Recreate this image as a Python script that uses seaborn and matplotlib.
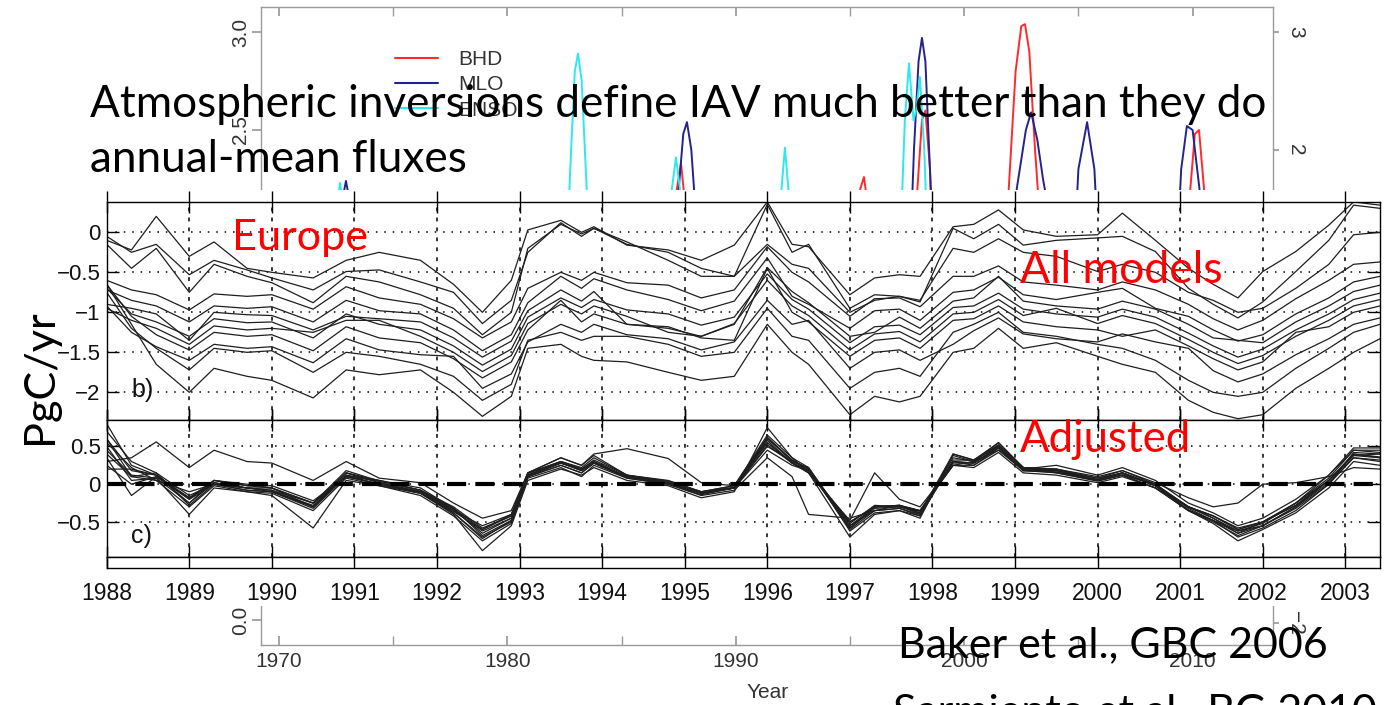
import matplotlib
matplotlib.use("Agg")
import matplotlib.pyplot as plt
from matplotlib.patches import Rectangle
from matplotlib.lines import Line2D
import pandas as pd
import seaborn as sns

# ---------------- foreground figure (Baker et al. 2006) ----------------
years = [1988.0, 1988.3, 1988.6, 1989.0, 1989.3, 1989.7, 1990.0, 1990.5, 1990.9, 1991.3,
         1991.8, 1992.2, 1992.55, 1992.9, 1993.1, 1993.5, 1993.75, 1993.9, 1994.3, 1994.8,
         1995.2, 1995.6, 1996.0, 1996.3, 1996.5, 1997.0, 1997.3, 1997.6, 1997.85, 1998.25,
         1998.5, 1998.8, 1999.1, 1999.5, 2000.0, 2000.3, 2000.7, 2001.1, 2001.4, 2001.7,
         2002.0, 2002.4, 2002.8, 2003.1, 2003.42]

# panel b) Europe, all models (PgC/yr)
eu_u1 = [-0.10, -0.22, 0.20, -0.30, -0.12, -0.45, -0.50, -0.57, -0.35, -0.25, -0.35, -0.65, -1.00, -0.60, 0.03,
         0.15, 0.00, 0.07, -0.16, -0.22, -0.35, -0.16, 0.38, -0.15, -0.18, -0.78, -0.57, -0.53, -0.55, 0.07,
         0.10, 0.28, 0.03, -0.05, -0.03, 0.24, -0.10, -0.45, -0.65, -0.82, -0.49, -0.24, 0.09, 0.38, 0.34]
eu_u2 = [-0.05, -0.25, -0.15, -0.53, -0.35, -0.47, -0.57, -0.72, -0.49, -0.47, -0.62, -0.75, -1.14, -0.85, -0.25,
         0.12, -0.05, 0.05, -0.15, -0.25, -0.45, -0.55, 0.35, -0.25, -0.15, -0.95, -0.78, -0.80, -0.87, 0.05,
         -0.08, 0.10, -0.16, -0.10, -0.07, -0.05, -0.24, -0.70, -0.90, -1.07, -0.87, -0.49, -0.10, 0.34, 0.30]
eu_u3 = [-0.15, -0.45, -0.20, -0.75, -0.40, -0.55, -0.63, -0.88, -0.55, -0.62, -0.78, -0.95, -1.28, -1.00, -0.20,
         0.10, -0.02, 0.05, -0.12, -0.35, -0.55, -0.55, -0.15, -0.40, -0.45, -1.00, -0.85, -0.80, -0.85, -0.20,
         -0.25, -0.08, -0.25, -0.30, -0.49, -0.40, -0.50, -0.75, -0.85, -1.00, -0.95, -0.70, -0.40, -0.03, 0.00]
eu_m1 = [-0.60, -0.72, -0.78, -0.97, -0.77, -0.80, -0.78, -0.96, -0.68, -0.82, -0.90, -1.08, -1.32, -1.12, -0.70,
         -0.50, -0.60, -0.50, -0.63, -0.66, -0.82, -0.72, -0.18, -0.50, -0.62, -1.05, -0.83, -0.82, -0.93, -0.55,
         -0.55, -0.42, -0.62, -0.66, -0.72, -0.62, -0.72, -0.90, -1.08, -1.22, -1.10, -0.83, -0.60, -0.40, -0.37]
eu_m2 = [-0.72, -0.85, -0.92, -1.12, -0.92, -0.95, -0.93, -1.12, -0.85, -0.98, -1.02, -1.22, -1.48, -1.28, -0.88,
         -0.55, -0.70, -0.58, -0.72, -0.84, -0.98, -0.86, -0.32, -0.80, -0.90, -1.20, -0.98, -0.96, -1.10, -0.75,
         -0.72, -0.56, -0.78, -0.84, -0.75, -0.70, -0.95, -1.05, -1.22, -1.36, -1.28, -1.02, -0.82, -0.62, -0.55]
eu_m3 = [-0.90, -0.95, -1.02, -1.35, -1.00, -1.03, -1.04, -1.22, -1.05, -1.08, -1.12, -1.32, -1.56, -1.36, -0.98,
         -0.72, -0.86, -0.74, -1.15, -1.20, -1.30, -1.15, -0.44, -0.74, -0.88, -1.30, -1.25, -1.06, -1.20, -0.86,
         -0.82, -0.55, -0.86, -0.92, -0.96, -0.86, -0.96, -1.15, -1.32, -1.35, -1.38, -1.12, -0.92, -0.74, -0.66]
eu_m4 = [-0.70, -1.02, -1.12, -1.30, -1.08, -1.13, -1.12, -1.32, -1.02, -1.15, -1.22, -1.42, -1.66, -1.46, -1.06,
         -0.82, -0.94, -0.84, -0.97, -1.02, -1.16, -1.06, -0.52, -0.84, -0.96, -1.38, -1.18, -1.16, -1.28, -0.94,
         -0.92, -0.76, -0.96, -1.02, -1.06, -0.96, -1.06, -1.26, -1.42, -1.56, -1.46, -1.22, -1.02, -0.84, -0.76]
eu_m5 = [-0.95, -1.10, -1.20, -1.40, -1.17, -1.22, -1.20, -1.25, -1.10, -1.10, -1.30, -1.50, -1.74, -1.54, -1.14,
         -0.90, -1.02, -0.92, -1.05, -1.25, -1.30, -1.14, -0.60, -0.92, -1.04, -1.47, -1.27, -1.24, -1.37, -1.02,
         -1.00, -0.84, -1.04, -0.95, -1.14, -1.04, -1.14, -1.34, -1.50, -1.64, -1.54, -1.30, -1.10, -0.92, -0.84]
eu_m6 = [-0.65, -1.05, -1.28, -1.47, -1.25, -1.30, -1.28, -1.48, -1.18, -1.32, -1.38, -1.58, -1.82, -1.62, -1.22,
         -0.85, -1.12, -1.02, -1.15, -1.18, -1.32, -1.35, -0.45, -1.00, -1.12, -1.55, -1.35, -1.32, -1.45, -1.10,
         -1.08, -0.92, -1.12, -1.18, -1.22, -1.30, -1.22, -1.42, -1.58, -1.72, -1.62, -1.25, -1.18, -1.00, -0.92]
eu_m7 = [-0.92, -1.25, -1.43, -1.60, -1.40, -1.45, -1.43, -1.63, -1.33, -1.47, -1.53, -1.55, -1.95, -1.77, -1.37,
         -1.15, -1.25, -1.15, -1.28, -1.33, -1.47, -1.37, -0.85, -1.15, -1.10, -1.70, -1.50, -1.47, -1.60, -1.40,
         -1.23, -1.07, -1.27, -1.33, -1.37, -1.27, -1.37, -1.45, -1.73, -1.87, -1.77, -1.53, -1.33, -1.15, -1.07]
eu_l1 = [-0.75, -1.20, -1.45, -1.72, -1.45, -1.50, -1.48, -1.75, -1.50, -1.55, -1.65, -1.80, -2.10, -1.90, -1.35,
         -1.25, -1.35, -1.30, -1.30, -1.40, -1.55, -1.50, -0.95, -1.30, -1.35, -1.95, -1.75, -1.70, -1.80, -1.25,
         -1.15, -1.00, -1.25, -1.30, -1.40, -1.45, -1.60, -1.85, -2.00, -2.05, -2.00, -1.70, -1.45, -1.25, -1.15]
eu_l2 = [-0.65, -1.15, -1.65, -2.00, -1.70, -1.80, -1.85, -2.07, -1.72, -1.78, -1.72, -2.00, -2.30, -2.05, -1.45,
         -1.40, -1.55, -1.60, -1.62, -1.75, -1.85, -1.80, -1.15, -1.50, -1.65, -2.28, -2.05, -2.12, -2.05, -1.50,
         -1.45, -1.20, -1.45, -1.38, -1.55, -1.65, -1.75, -2.10, -2.25, -2.33, -2.28, -1.95, -1.70, -1.50, -1.33]

# panel c) Europe, adjusted (PgC/yr)
adj_c1 = [0.30, 0.35, 0.56, 0.22, 0.45, 0.30, 0.28, 0.05, 0.30, 0.08, 0.02, -0.25, -0.45, -0.35, 0.15,
          0.35, 0.25, 0.40, 0.47, 0.34, 0.02, -0.02, 0.55, 0.28, 0.15, -0.50, -0.30, -0.28, -0.35, 0.30,
          0.25, 0.48, 0.18, 0.20, 0.05, 0.12, 0.00, -0.30, -0.42, -0.58, -0.50, -0.25, 0.08, 0.45, 0.42]
adj_c2 = [0.60, 0.10, 0.05, -0.30, -0.02, -0.10, -0.15, -0.58, 0.05, -0.02, -0.15, -0.42, -0.75, -0.52, 0.08,
          0.22, 0.10, 0.25, 0.08, 0.00, -0.15, -0.08, 0.35, 0.10, -0.40, -0.45, -0.35, -0.28, -0.35, 0.25,
          0.22, 0.42, 0.15, 0.12, 0.02, 0.10, -0.05, -0.35, -0.50, -0.68, -0.55, -0.30, 0.02, 0.35, 0.32]
adj_c3 = [0.80, 0.25, 0.12, -0.18, 0.05, -0.02, -0.05, -0.30, 0.15, 0.05, -0.05, -0.32, -0.60, -0.40, 0.15,
          0.30, 0.22, 0.35, 0.12, 0.05, -0.10, -0.02, 0.62, 0.32, 0.20, -0.60, -0.35, -0.32, -0.40, 0.35,
          0.30, 0.52, 0.22, 0.20, 0.10, 0.18, 0.02, -0.18, -0.30, -0.25, 0.00, 0.02, 0.10, 0.22, 0.20]
adj_c4 = [0.70, 0.30, 0.15, -0.15, 0.00, -0.08, -0.10, -0.32, 0.10, 0.00, -0.12, -0.38, -0.70, -0.50, 0.10,
          0.25, 0.15, 0.28, 0.08, 0.00, -0.12, -0.05, 0.60, 0.32, 0.20, -0.58, -0.30, -0.28, -0.40, 0.38,
          0.30, 0.55, 0.22, 0.18, 0.08, 0.18, 0.00, -0.30, -0.45, -0.62, -0.52, -0.25, 0.12, 0.45, 0.45]
adj_c5 = [0.50, 0.05, 0.08, -0.25, 0.02, -0.05, -0.10, -0.30, 0.12, 0.04, -0.08, -0.30, -0.58, -0.42, 0.14,
          0.30, 0.20, 0.32, 0.12, 0.04, -0.10, -0.04, 0.55, 0.28, 0.18, -0.52, -0.28, -0.30, -0.36, 0.28,
          0.28, 0.48, 0.20, 0.16, 0.06, 0.14, -0.02, -0.34, -0.48, -0.65, -0.55, -0.32, 0.00, 0.35, 0.30]
adj_c6 = [0.35, -0.15, 0.10, -0.20, 0.00, -0.05, -0.05, -0.25, 0.15, 0.02, -0.10, -0.35, -0.62, -0.45, 0.10,
          0.28, 0.18, 0.28, 0.10, 0.02, -0.12, -0.05, 0.50, 0.30, 0.22, -0.55, -0.35, -0.32, -0.42, 0.30,
          0.28, 0.48, 0.18, 0.18, 0.05, 0.12, -0.05, -0.30, -0.42, -0.60, -0.50, -0.28, 0.05, 0.38, 0.40]
adj_c7 = [0.20, 0.20, 0.12, -0.25, 0.05, -0.02, -0.02, -0.22, 0.10, 0.05, -0.08, -0.32, -0.68, -0.48, 0.12,
          0.30, 0.20, 0.30, 0.10, 0.04, -0.10, -0.02, 0.65, 0.35, 0.22, -0.62, -0.38, -0.35, -0.42, 0.32,
          0.32, 0.52, 0.22, 0.20, 0.08, 0.15, 0.00, -0.32, -0.48, -0.70, -0.58, -0.35, 0.00, 0.42, 0.40]
adj_c8 = [0.45, 0.12, 0.08, -0.40, -0.05, -0.10, -0.12, -0.35, 0.08, -0.02, -0.12, -0.40, -0.88, -0.55, 0.05,
          0.20, 0.12, 0.22, 0.05, -0.02, -0.18, -0.10, 0.75, 0.35, 0.15, -0.70, -0.40, -0.35, -0.45, 0.40,
          0.32, 0.55, 0.22, 0.15, 0.04, 0.12, -0.05, -0.35, -0.52, -0.75, -0.60, -0.38, -0.05, 0.30, 0.25]
adj_c9 = [0.60, 0.18, 0.12, -0.20, 0.05, 0.00, -0.05, -0.25, 0.18, 0.04, -0.08, -0.35, -0.55, -0.40, 0.15,
          0.35, 0.25, 0.38, 0.12, 0.02, -0.12, -0.05, 0.52, 0.28, 0.15, -0.48, 0.15, -0.20, -0.30, 0.25,
          0.30, 0.45, 0.20, 0.25, 0.12, 0.22, 0.05, -0.25, -0.38, -0.55, -0.45, -0.20, 0.12, 0.48, 0.48]
adj_c10 = [0.55, 0.22, 0.05, -0.10, 0.00, -0.05, -0.08, -0.30, 0.12, 0.00, -0.10, -0.38, -0.72, -0.48, 0.10,
           0.25, 0.15, 0.28, 0.10, 0.02, -0.12, -0.05, 0.58, 0.28, 0.18, -0.58, -0.32, -0.30, -0.38, 0.40,
           0.32, 0.50, 0.18, 0.15, 0.05, 0.15, -0.02, -0.30, -0.45, -0.65, -0.50, -0.25, 0.05, 0.40, 0.35]
adj_c11 = [0.40, 0.10, 0.15, -0.28, 0.00, -0.08, -0.10, -0.28, 0.15, 0.02, -0.10, -0.33, -0.65, -0.45, 0.12,
           0.28, 0.18, 0.28, 0.10, 0.00, -0.14, -0.05, 0.62, 0.30, 0.20, -0.55, -0.30, -0.28, -0.38, 0.30,
           0.28, 0.50, 0.20, 0.18, 0.06, 0.15, -0.02, -0.35, -0.48, -0.62, -0.55, -0.30, 0.05, 0.40, 0.36]
adj_c12 = [0.25, 0.00, 0.10, -0.18, 0.02, -0.05, -0.08, -0.25, 0.10, 0.00, -0.12, -0.36, -0.60, -0.42, 0.12,
           0.28, 0.20, 0.30, 0.10, 0.02, -0.12, -0.05, 0.45, 0.25, 0.18, -0.50, -0.30, -0.30, -0.35, 0.25,
           0.25, 0.45, 0.18, 0.16, 0.06, 0.15, -0.02, -0.30, -0.42, -0.60, -0.50, -0.28, 0.05, 0.38, 0.35]

fg_year_ticks = list(range(1988, 2004))
b_yticks = [0, -0.5, -1, -1.5, -2]
b_ylabels = ["0", "\u22120.5", "\u22121", "\u22121.5", "\u22122"]
c_yticks = [0.5, 0, -0.5]
c_ylabels = ["0.5", "0", "\u22120.5"]

# ---------------- background figure (Sarmiento et al. 2010) ----------------
bhd_year = [1969.3, 1987.1, 1987.35, 1987.6, 1987.8, 1988.05, 1995.2, 1995.45, 1995.61, 1995.8, 1996.0,
            1997.7, 1997.95, 1998.15, 1998.3, 1998.5, 1998.7, 2001.7, 2001.95, 2002.25, 2002.5, 2002.66,
            2002.85, 2003.1, 2003.4, 2003.7, 2009.6, 2009.9, 2010.1, 2010.28, 2010.5, 2010.8, 2013.5]
bhd_val = [1.6, 1.6, 2.15, 2.33, 2.1, 1.6, 1.6, 2.2, 2.26, 2.1, 1.6,
           1.6, 2.2, 2.55, 2.6, 2.3, 1.6, 1.6, 2.2, 2.8, 3.03, 3.04,
           2.9, 2.4, 1.9, 1.6, 1.6, 2.2, 2.48, 2.5, 2.2, 1.6, 1.6]
mlo_year = [1969.3, 1972.4, 1972.7, 1972.93, 1973.15, 1973.45, 1987.2, 1987.5, 1987.7, 1987.86, 1988.05,
            1988.35, 1988.6, 1997.55, 1997.8, 1998.0, 1998.15, 1998.3, 1998.5, 1998.75, 2002.1, 2002.3,
            2002.7, 2002.93, 2003.2, 2003.45, 2003.6, 2003.8, 2004.7, 2005.0, 2005.38, 2005.7, 2006.0,
            2009.2, 2009.5, 2009.75, 2010.0, 2010.3, 2010.6, 2013.5]
mlo_val = [1.6, 1.6, 2.1, 2.24, 2.1, 1.6, 1.6, 2.2, 2.48, 2.54, 2.4,
           1.9, 1.6, 1.6, 2.4, 2.85, 2.97, 2.85, 2.3, 1.6, 1.6, 2.2,
           2.5, 2.59, 2.45, 2.25, 2.15, 1.6, 1.6, 2.3, 2.54, 2.3, 1.6,
           1.6, 2.3, 2.52, 2.5, 2.2, 1.6, 1.6]
enso_year = [1969.3, 1972.1, 1972.45, 1972.67, 1972.9, 1973.2, 1982.5, 1982.75, 1982.95, 1983.09, 1983.25,
             1983.45, 1983.7, 1986.9, 1987.2, 1987.38, 1987.55, 1987.8, 1991.75, 1992.0, 1992.15, 1992.3,
             1992.55, 1997.1, 1997.4, 1997.58, 1997.78, 1997.9, 1998.06, 1998.25, 1998.5, 2013.5]
enso_val = [1.6, 1.6, 2.05, 2.23, 2.05, 1.6, 1.6, 2.3, 2.8, 2.89, 2.75,
            2.25, 1.6, 1.6, 2.2, 2.36, 2.2, 1.6, 1.6, 2.2, 2.41, 2.2,
            1.6, 1.6, 2.55, 2.84, 2.55, 2.6, 2.77, 2.4, 1.6, 1.6]
bg_series = ["BHD", "MLO", "ENSO"]
bg_colors = {"BHD": "#ff2a2a", "MLO": "#23238f", "ENSO": "#2de8ec"}
bg_xmajor = [1970, 1980, 1990, 2000, 2010]
bg_xminor = [1975, 1985, 1995, 2005]
bg_yleft = [0.0, 0.5, 1.0, 1.5, 2.0, 2.5, 3.0]
bg_yright = [-2, -1, 0, 1, 2, 3]

title_1 = "Atmospheric inversions define IAV much better than they do"
title_2 = "annual-mean fluxes"
ref_1 = "Baker et al., GBC 2006"
ref_2 = "Sarmiento et al., BG 2010"

# ---------------- build tables ----------------
def long_table(named):
    rows = []
    for name, vals in named.items():
        for t, v in zip(years, vals):
            rows.append((name, t, v))
    return pd.DataFrame(rows, columns=["model", "year", "flux"])

df_b = long_table({"u1": eu_u1, "u2": eu_u2, "u3": eu_u3, "m1": eu_m1, "m2": eu_m2, "m3": eu_m3,
                   "m4": eu_m4, "m5": eu_m5, "m6": eu_m6, "m7": eu_m7, "l1": eu_l1, "l2": eu_l2})
df_c = long_table({"c1": adj_c1, "c2": adj_c2, "c3": adj_c3, "c4": adj_c4, "c5": adj_c5, "c6": adj_c6,
                   "c7": adj_c7, "c8": adj_c8, "c9": adj_c9, "c10": adj_c10, "c11": adj_c11, "c12": adj_c12})
bg_rows = []
for name, ys, vs in (("BHD", bhd_year, bhd_val), ("MLO", mlo_year, mlo_val), ("ENSO", enso_year, enso_val)):
    for t, v in zip(ys, vs):
        bg_rows.append((name, t, v))
df_bg = pd.DataFrame(bg_rows, columns=["series", "year", "value"])

# ---------------- figure ----------------
sns.set_theme(style="white")
plt.rcParams["font.family"] = ["Liberation Sans", "DejaVu Sans"]

W, H = 1385, 705
fig = plt.figure(figsize=(W / 100, H / 100), dpi=100)
fig.patch.set_facecolor("white")


def box(l, t, r, b):
    return [l / W, 1 - b / H, (r - l) / W, (b - t) / H]


PX = 72 / 100  # points per pixel

# ---- background axes ----
axg = fig.add_axes(box(261, 7.3, 1273, 645), zorder=0)
axg.patch.set_alpha(0)
sns.lineplot(data=df_bg, x="year", y="value", hue="series", palette=bg_colors, hue_order=bg_series,
             estimator=None, sort=False, lw=1.4, ax=axg, legend=False)
axg.set_xlim(1969.21, 2013.52)
axg.set_ylim(-0.128, 3.126)
axg.set_xlabel("")
axg.set_ylabel("")
for sp in axg.spines.values():
    sp.set_color("#9a9a9a")
    sp.set_linewidth(1.0)
axg.set_xticks(bg_xmajor)
axg.set_xticks(bg_xminor, minor=True)
axg.set_xticklabels([str(v) for v in bg_xmajor])
axg.tick_params(axis="x", which="both", direction="in", top=True, bottom=True, length=9 * PX,
                color="#9a9a9a", labelsize=15, labelcolor="#333333", pad=7 * PX)
axg.set_yticks(bg_yleft)
axg.set_yticklabels(["%.1f" % v for v in bg_yleft], rotation=90, va="center")
axg.tick_params(axis="y", direction="out", left=True, length=9 * PX, color="#9a9a9a",
                labelsize=15, labelcolor="#333333", pad=2 * PX)
axr = axg.twinx()
axr.set_ylim(-2.184, 3.206)
axr.set_yticks(bg_yright)
axr.set_yticklabels([str(v).replace("-", "\u2212") for v in bg_yright], rotation=-90, va="center")
axr.tick_params(axis="y", direction="out", right=True, length=6 * PX, color="#9a9a9a",
                labelsize=15, labelcolor="#333333", pad=7 * PX)
for sp in axr.spines.values():
    sp.set_visible(False)
axr.grid(False)
handles = [Line2D([0], [0], color=bg_colors[s], lw=1.5) for s in bg_series]
leg = axg.legend(handles, bg_series, loc="upper left", bbox_to_anchor=(395 / W, 1 - 50 / H),
                 bbox_transform=fig.transFigure, frameon=False, fontsize=15, handlelength=2.05,
                 handletextpad=1.0, labelspacing=0.3, borderpad=0, borderaxespad=0)
for t in leg.get_texts():
    t.set_color("#333333")
fig.text(768 / W, 1 - 692 / H, "Year", ha="center", va="center", fontsize=15, color="#333333", zorder=0.5)

# ---- white foreground sheet ----
fig.add_artist(Rectangle((0, 1 - 606 / H), 1, (606 - 190) / H, transform=fig.transFigure,
                         facecolor="white", edgecolor="none", zorder=1))

XL = (1988.0, 2003.42)
axb = fig.add_axes(box(106.7, 201.7, 1380, 420), zorder=2)
axc = fig.add_axes(box(106.7, 420, 1380, 556.7), zorder=2)
axs = fig.add_axes(box(106.7, 556.7, 1380, 568), zorder=2)

sns.lineplot(data=df_b, x="year", y="flux", units="model", estimator=None, sort=False,
             color="#1e1e1e", lw=0.9, ax=axb, legend=False)
sns.lineplot(data=df_c, x="year", y="flux", units="model", estimator=None, sort=False,
             color="#1e1e1e", lw=0.9, ax=axc, legend=False)
axc.axhline(0, color="black", lw=3.0, linestyle=(0, (4.6, 2.2)), zorder=3)

for ax, yt, yl, ylim in ((axb, b_yticks, b_ylabels, (-2.346, 0.383)),
                         (axc, c_yticks, c_ylabels, (-0.96, 0.85))):
    ax.set_facecolor("white")
    ax.set_xlim(*XL)
    ax.set_ylim(*ylim)
    ax.set_xlabel("")
    ax.set_ylabel("")
    ax.set_xticks(fg_year_ticks)
    ax.set_xticklabels([])
    ax.set_yticks(yt)
    ax.set_yticklabels(yl)
    ax.tick_params(axis="x", direction="inout", length=22 * PX, width=1.0, top=True, bottom=True,
                   color="black", labelbottom=False)
    ax.tick_params(axis="y", direction="in", length=12 * PX, width=1.0, left=True, right=True,
                   color="black", labelsize=16, labelcolor="#111111", pad=6 * PX)
    ax.yaxis.grid(True, color="black", lw=1.1, linestyle=(0, (1, 4.5)))
    ax.xaxis.grid(True, color="black", lw=1.1, linestyle=(0, (2.5, 4)))
    for sp in ax.spines.values():
        sp.set_color("black")
        sp.set_linewidth(1.0)

axs.set_facecolor("white")
axs.set_xlim(*XL)
axs.set_ylim(0, 1)
axs.set_yticks([])
axs.set_xticks(fg_year_ticks)
axs.set_xticklabels([str(y) for y in fg_year_ticks])
axs.tick_params(axis="x", direction="in", length=11 * PX, width=1.0, bottom=True, top=False,
                color="black", labelsize=16.5, labelcolor="#111111", pad=14 * PX)
for sp in axs.spines.values():
    sp.set_color("black")
    sp.set_linewidth(1.0)

axb.text(1988.3, -2.06, "b)", fontsize=18, color="#111111", va="baseline")
axc.text(1988.3, -0.78, "c)", fontsize=18, color="#111111", va="baseline")

# ---- slide texts ----
LATO = ["Lato", "DejaVu Sans"]
t_pg = fig.text(40 / W, 1 - 377 / H, "PgC/yr", rotation=90, ha="center", va="center",
                fontsize=32, family=LATO, color="black", zorder=5)
t_eu = fig.text(232 / W, 1 - 250 / H, "Europe", fontsize=30, family=LATO, color="#ff0000",
                va="baseline", zorder=5)
t_all = fig.text(1020 / W, 1 - 283 / H, "All models", fontsize=30, family=LATO, color="#ff0000",
                 va="baseline", zorder=5)
t_adj = fig.text(1020 / W, 1 - 452 / H, "Adjusted", fontsize=30, family=LATO, color="#ff0000",
                 va="baseline", zorder=5)
t_t1 = fig.text(90 / W, 1 - 117 / H, title_1, fontsize=32, family=LATO, color="black",
                va="baseline", zorder=5)
t_t2 = fig.text(90 / W, 1 - 172 / H, title_2, fontsize=32, family=LATO, color="black",
                va="baseline", zorder=5)
t_r1 = fig.text(898 / W, 1 - 657 / H, ref_1, fontsize=32, family=LATO, color="black",
                va="baseline", zorder=5)
t_r2 = fig.text(893 / W, 1 - 724 / H, ref_2, fontsize=32, family=LATO, color="black",
                va="baseline", zorder=5)

fig.canvas.draw()
rend = fig.canvas.get_renderer()


def fit(t, target, vertical=False):
    bb = t.get_window_extent(rend)
    cur = bb.height if vertical else bb.width
    t.set_fontsize(t.get_fontsize() * target / cur)
    return t.get_fontsize()


fit(t_pg, 135, vertical=True)
fit(t_eu, 136)
fit(t_all, 202)
fit(t_adj, 171)
fs = fit(t_t1, 1178)
t_t2.set_fontsize(fs)
fs2 = fit(t_r1, 432)
t_r2.set_fontsize(fs2)

fig.savefig("out.png", dpi=100, facecolor="white")
